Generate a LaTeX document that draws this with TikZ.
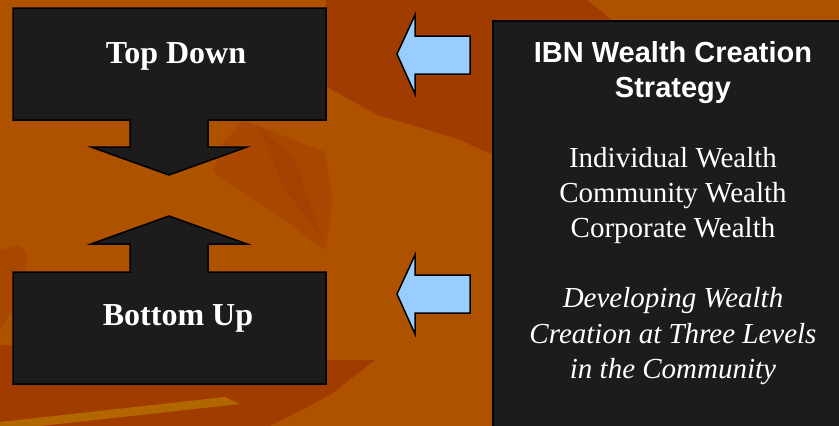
\documentclass[tikz,border=0pt]{standalone}
\usepackage{fontspec}
\setmainfont{Liberation Serif}
\setsansfont{Liberation Sans}
\definecolor{bgbase}{HTML}{AE5200}
\definecolor{bgdark}{HTML}{A03C00}
\definecolor{bgmid}{HTML}{A84800}
\definecolor{bgmid2}{HTML}{A34200}
\definecolor{bglight}{HTML}{B26600}
\definecolor{boxfill}{HTML}{1C1C1C}
\definecolor{arrowblue}{HTML}{99CCFF}
\tikzset{
  panel/.style={fill=boxfill,draw=black,line width=1.5pt,line join=miter},
  bluearrow/.style={fill=arrowblue,draw=black,line width=1.5pt,line join=miter},
  boldserif/.style={text=white,font=\fontsize{32}{38}\selectfont\bfseries,inner sep=0pt,anchor=base},
  headsans/.style={text=white,font=\fontsize{29}{35}\selectfont\sffamily\bfseries,inner sep=0pt,anchor=base},
  bodyserif/.style={text=white,font=\fontsize{29}{35}\selectfont,inner sep=0pt,anchor=base},
  bodyital/.style={text=white,font=\fontsize{29}{35}\selectfont\itshape,inner sep=0pt,anchor=base}
}
\begin{document}
\begin{tikzpicture}[x=1pt,y=-1pt]
\useasboundingbox (0,0) rectangle (839,426);
\clip (0,0) rectangle (839,426);
% background
\fill[bgbase] (0,0) rectangle (839,426);
\fill[bgdark] (326,0) -- (587,0) -- (613,21) -- (493,21) -- (493,155) -- (458,139) -- (378,115) -- (327,87) -- cycle;
\fill[bgmid] (243,120) -- (325,152) -- (333,200) -- (325,250) -- (270,210) -- (213,172) -- (222,145) -- cycle;
\fill[bgmid2] (258,125) -- (295,160) -- (322,238) -- (285,190) -- cycle;
\fill[bgmid] (0,250) -- (20,245) -- (28,258) -- (18,300) -- (0,330) -- cycle;
\fill[bgdark] (0,345) -- (330,360) -- (375,360) -- (330,395) -- (270,426) -- (0,426) -- cycle;
\fill[bglight] (0,422) -- (225,397) -- (240,404) -- (40,426) -- (0,426) -- cycle;
% left panels with block arrows
\draw[panel] (13,8) -- (326,8) -- (326,120) -- (208,120) -- (208,147) -- (247,147) -- (169,175) -- (91,147) -- (130,147) -- (130,120) -- (13,120) -- cycle;
\draw[panel] (13,384) -- (326,384) -- (326,272) -- (208,272) -- (208,244) -- (247,244) -- (169,216) -- (91,244) -- (130,244) -- (130,272) -- (13,272) -- cycle;
\node[boldserif] (top) at (176,63) {Top Down};
\node[boldserif] (bottom) at (178,325) {Bottom Up};
% blue arrows
\draw[bluearrow] (397,54) -- (415,15) -- (415,36) -- (470,36) -- (470,74) -- (415,74) -- (415,94) -- cycle;
\draw[bluearrow] (397,294) -- (415,255) -- (415,275) -- (470,275) -- (470,313) -- (415,313) -- (415,334) -- cycle;
% right panel
\draw[panel] (493,21) rectangle (870,440);
\node[headsans] (h1) at (673,62) {IBN Wealth Creation};
\node[headsans] (h2) at (673,97) {Strategy};
\node[bodyserif] (l1) at (673,167) {Individual Wealth};
\node[bodyserif] (l2) at (673,202) {Community Wealth};
\node[bodyserif] (l3) at (673,237) {Corporate Wealth};
\node[bodyital] (i1) at (673,307) {Developing Wealth};
\node[bodyital] (i2) at (673,343) {Creation at Three Levels};
\node[bodyital] (i3) at (673,378) {in the Community};
\end{tikzpicture}
\end{document}
